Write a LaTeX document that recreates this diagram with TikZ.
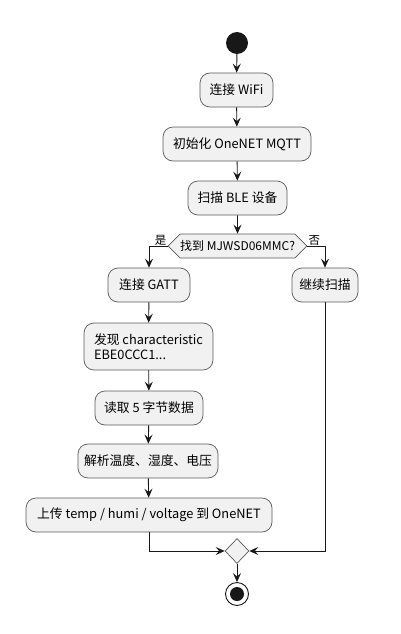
\documentclass[tikz,border=0pt]{standalone}
\usepackage{fontspec}
\setmainfont{Noto Sans CJK SC}
\usetikzlibrary{arrows.meta,shapes.geometric,shapes.symbols}
\definecolor{boxfill}{HTML}{F1F1F1}
\definecolor{linecol}{HTML}{181818}
\definecolor{boxline}{HTML}{5A5A5A}
\begin{document}
\begin{tikzpicture}[x=1pt,y=-1pt,
  act/.style={draw=boxline, fill=boxfill, rounded corners=10pt, minimum height=34pt,
    font=\fontsize{12.8}{15.5}\selectfont, inner sep=0pt, line width=0.7pt},
  dec/.style={draw=boxline, fill=boxfill, shape=signal, signal to=west and east,
    signal pointer angle=90, minimum width=137pt, minimum height=24pt, inner sep=0pt,
    font=\fontsize{12}{14}\selectfont, line width=0.7pt},
  merge/.style={draw=boxline, fill=boxfill, shape=diamond, minimum width=24pt,
    minimum height=25pt, inner sep=0pt, line width=0.7pt},
  flow/.style={draw=linecol, line width=0.9pt, -{Stealth[length=9pt,width=8pt,inset=3.5pt]}},
  lbl/.style={font=\fontsize{11.5}{13}\selectfont, inner sep=1pt}]
\useasboundingbox (0,0) rectangle (400,634);
\node[circle, fill=linecol, minimum size=22pt, inner sep=0pt] (start) at (237,43) {};
\node[act, minimum width=73pt] (wifi) at (236.5,90) {连接 WiFi};
\node[act, minimum width=148pt] (mqtt) at (237,144) {初始化 OneNET MQTT};
\node[act, minimum width=99pt] (scan) at (237.5,198) {扫描 BLE 设备};
\node[dec] (dec) at (237.5,246) {找到 MJWSD06MMC?};
\node[act, minimum width=82pt] (gatt) at (149,285) {连接 GATT};
\node[act, minimum width=66pt] (cont) at (325,285) {继续扫描};
\node[act, minimum width=129pt, minimum height=47pt, align=left] (char) at (148.5,346.5) {发现 characteristic\\EBE0CCC1...};
\node[act, minimum width=108pt] (read) at (149,408) {读取 5 字节数据};
\node[act, minimum width=140pt] (parse) at (148,461) {解析温度、湿度、电压};
\node[act, minimum width=246pt] (up) at (149,515) {上传 temp / humi / voltage 到 OneNET};
\node[merge] (merge) at (237,551) {};
\node[circle, draw=linecol, fill=white, line width=0.9pt, minimum size=23pt, inner sep=0pt] (end) at (237,594) {};
\node[circle, fill=linecol, minimum size=14pt, inner sep=0pt] (enddot) at (end) {};
\draw[flow] (start) -- (wifi);
\draw[flow] (wifi) -- (mqtt);
\draw[flow] (mqtt) -- (scan);
\draw[flow] (scan) -- (dec);
\draw[flow] (dec.west) -| (gatt.north);
\draw[flow] (dec.east) -| (cont.north);
\node[lbl, anchor=south east] (yes) at ([yshift=-1pt]dec.west) {是};
\node[lbl, anchor=south west] (no) at ([yshift=-1pt]dec.east) {否};
\draw[flow] (gatt) -- (char);
\draw[flow] (char) -- (read);
\draw[flow] (read) -- (parse);
\draw[flow] (parse) -- (up);
\draw[flow] (up.south) |- (merge.west);
\draw[flow] (cont.south) |- (merge.east);
\draw[flow] (merge) -- (end);
\end{tikzpicture}
\end{document}
